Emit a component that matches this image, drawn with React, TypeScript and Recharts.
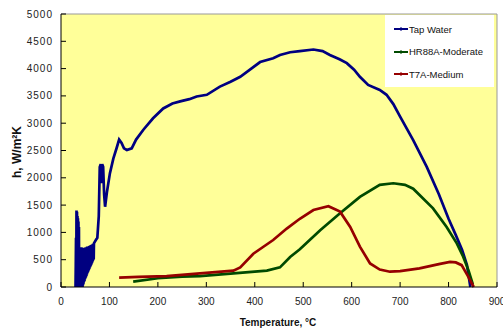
import {
  LineChart,
  Line,
  XAxis,
  YAxis,
  CartesianGrid,
  ReferenceLine,
  Legend,
} from "recharts";

const tapTemp = [
  30, 30.5, 31, 31.5, 32, 32.5, 33, 33.5, 34, 34.5, 35, 35.5, 36, 36.5, 37, 37.5,
  38, 38.5, 39, 39.5, 40, 40.5, 41, 41.5, 42, 42.5, 43, 43.5, 44, 44.5, 45, 45.5,
  46, 46.5, 47, 47.5, 48, 48.5, 49, 49.5, 50, 50.5, 51, 51.5, 52, 52.5, 53, 53.5,
  54, 54.5, 55, 55.5, 56, 56.5, 57, 57.5, 58, 58.5, 59, 59.5, 60, 60.5, 61, 61.5,
  62, 62.5, 63, 63.5, 64, 64.5, 65, 65.5, 66, 66.5, 67, 67.5, 68, 70, 72, 75, 78,
  80, 82, 83, 85, 87, 89, 91, 95, 101, 108, 115, 120, 125, 130, 136, 146, 155, 170,
  190, 211, 230, 246, 265, 280, 301, 328, 350, 370, 390, 411, 438, 452, 473, 493,
  521, 540, 555, 575, 590, 605, 617, 634, 658, 672, 686, 700, 727, 755, 780, 800,
  815, 828, 838, 845,
];
const tapH = [
  0, 400, 900, 0, 1400, 80, 1380, 0, 1300, 40, 1260, 0, 1200, 0, 1100, 0,
  720, 0, 680, 0, 720, 0, 690, 0, 730, 0, 700, 0, 680, 0, 720, 30,
  690, 60, 710, 90, 680, 110, 720, 140, 700, 160, 730, 180, 690, 200, 720, 230,
  740, 250, 710, 270, 740, 290, 720, 310, 750, 330, 730, 350, 760, 370, 740, 390,
  770, 410, 750, 430, 780, 450, 760, 470, 790, 490, 780, 510, 800, 830, 860, 900, 1300,
  2200, 2250, 1900, 2250, 2200, 1700, 1470, 1750, 2085, 2350, 2550, 2700, 2640, 2540,
  2510, 2540, 2700, 2880, 3090, 3270, 3360, 3400, 3440, 3490, 3520, 3670, 3760, 3850,
  3980, 4120, 4190, 4250, 4300, 4320, 4350, 4320, 4250, 4170, 4100, 3980, 3850, 3700,
  3610, 3520, 3350, 3120, 2690, 2200, 1700, 1250, 950, 680, 400, 0,
];

// HR88A-Moderate
const hrTemp = [
  149, 200, 250, 287, 356, 425, 452, 473, 493, 535, 576, 617, 658, 686, 710, 727,
  768, 796, 817, 830, 841, 850,
];
const hrH = [
  100, 160, 190, 200, 250, 300, 360, 550, 690, 1040, 1350, 1650, 1870, 1900, 1870,
  1800, 1440, 1100, 800, 560, 310, 50,
];

// T7A-Medium
const t7Temp = [
  120, 160, 218, 287, 356, 370, 397, 438, 466, 493, 521, 552, 576, 597, 617, 638,
  658, 679, 700, 740, 780, 803, 815, 827, 840, 852,
];
const t7H = [
  170, 185, 200, 250, 300, 360, 610, 860, 1070, 1250, 1410, 1480, 1380, 1100, 740,
  430, 320, 280, 290, 340, 420, 460, 450, 400, 200, 0,
];

const seriesNames = ["Tap Water", "HR88A-Moderate", "T7A-Medium"];
const seriesColors = ["#000080", "#004a00", "#960000"];

const xTicks = [0, 100, 200, 300, 400, 500, 600, 700, 800, 900];
const yTicks = [0, 500, 1000, 1500, 2000, 2500, 3000, 3500, 4000, 4500, 5000];
const xMinor = Array.from({ length: 91 }, (_, i) => i * 10);
const yMinor = Array.from({ length: 51 }, (_, i) => i * 100);

const PLOT = { left: 61, right: 497, top: 14, bottom: 287 };
const FONT = '"Liberation Sans", Arial, sans-serif';

const toPoints = (temps: number[], hs: number[]) =>
  temps.map((t, i) => ({ temp: t, h: hs[i] }));

const series = [
  toPoints(tapTemp, tapH),
  toPoints(hrTemp, hrH),
  toPoints(t7Temp, t7H),
];

const XTick = (props: any) => (
  <g>
    <line x1={props.x} x2={props.x} y1={PLOT.bottom} y2={PLOT.bottom - 5} stroke="#000" />
    <text
      x={props.x}
      y={PLOT.bottom + 18}
      textAnchor="middle"
      fontSize={10}
      fill="#222"
      fontFamily={FONT}
    >
      {props.payload.value}
    </text>
  </g>
);

const YTick = (props: any) => (
  <g>
    <line x1={PLOT.left} x2={PLOT.left + 5} y1={props.y} y2={props.y} stroke="#000" />
    <text
      x={PLOT.left - 8}
      y={props.y + 3.5}
      textAnchor="end"
      fontSize={10}
      letterSpacing={1}
      fill="#222"
      fontFamily={FONT}
    >
      {props.payload.value}
    </text>
  </g>
);

const XMinorTick = (props: any) => (
  <line x1={props.x} x2={props.x} y1={PLOT.bottom} y2={PLOT.bottom - 3} stroke="#000" />
);

const YMinorTick = (props: any) => (
  <line x1={PLOT.left} x2={PLOT.left + 3} y1={props.y} y2={props.y} stroke="#000" />
);

const LegendBox = () => (
  <div
    style={{
      background: "#fff",
      width: 109,
      height: 72,
      paddingTop: 3,
      boxSizing: "border-box",
      fontFamily: FONT,
      fontSize: 9.5,
      color: "#111",
    }}
  >
    {seriesNames.map((name, i) => (
      <div key={name} style={{ display: "flex", alignItems: "center", height: 22.5 }}>
        <svg width={24} height={6} style={{ flex: "none" }}>
          <line x1={9} x2={23} y1={3} y2={3} stroke={seriesColors[i]} strokeWidth={2} />
          <line x1={16} x2={16} y1={1} y2={5} stroke={seriesColors[i]} strokeWidth={1} />
        </svg>
        <span style={{ whiteSpace: "nowrap" }}>{name}</span>
      </div>
    ))}
  </div>
);

export default function App() {
  return (
    <div style={{ position: "absolute", left: 0, top: 0, width: 503, height: 333, background: "#fff" }}>
      <LineChart
        width={503}
        height={333}
        margin={{ top: PLOT.top, right: 503 - PLOT.right, bottom: 0, left: 0 }}
      >
        <CartesianGrid horizontal={false} vertical={false} fill="#ffff99" />
        <XAxis
          type="number"
          dataKey="temp"
          domain={[0, 900]}
          ticks={xTicks}
          interval={0}
          height={333 - PLOT.bottom}
          tickLine={false}
          tick={<XTick />}
          axisLine={{ stroke: "#000" }}
          allowDuplicatedCategory={false}
        />
        <XAxis
          xAxisId="minor"
          type="number"
          dataKey="temp"
          domain={[0, 900]}
          ticks={xMinor}
          interval={0}
          height={0}
          tickLine={false}
          axisLine={false}
          tick={<XMinorTick />}
        />
        <YAxis
          type="number"
          domain={[0, 5000]}
          ticks={yTicks}
          interval={0}
          width={PLOT.left}
          tickLine={false}
          tick={<YTick />}
          axisLine={{ stroke: "#000" }}
        />
        <YAxis
          yAxisId="minor"
          type="number"
          domain={[0, 5000]}
          ticks={yMinor}
          interval={0}
          width={0}
          tickLine={false}
          axisLine={false}
          tick={<YMinorTick />}
        />
        <ReferenceLine y={5000} stroke="#999" />
        <ReferenceLine x={900} stroke="#999" />
        {series.map((data, i) => (
          <Line
            key={seriesNames[i]}
            data={data}
            dataKey="h"
            name={seriesNames[i]}
            type="linear"
            stroke={seriesColors[i]}
            strokeWidth={2.7}
            dot={false}
            isAnimationActive={false}
          />
        ))}
        <Legend
          layout="vertical"
          align="center"
          verticalAlign="middle"
          content={<LegendBox />}
          wrapperStyle={{ left: 385, top: 15, width: 109, height: 72 }}
        />
        <text
          x={18}
          y={152}
          transform="rotate(-90 18 152)"
          textAnchor="middle"
          dominantBaseline="middle"
          fontSize={12}
          fontWeight="bold"
          fontFamily={FONT}
          fill="#111"
        >
          h, W/m²K
        </text>
        <text
          x={278}
          y={323}
          textAnchor="middle"
          dominantBaseline="middle"
          fontSize={10}
          fontWeight="bold"
          fontFamily={FONT}
          fill="#111"
        >
          Temperature, °C
        </text>
      </LineChart>
    </div>
  );
}
